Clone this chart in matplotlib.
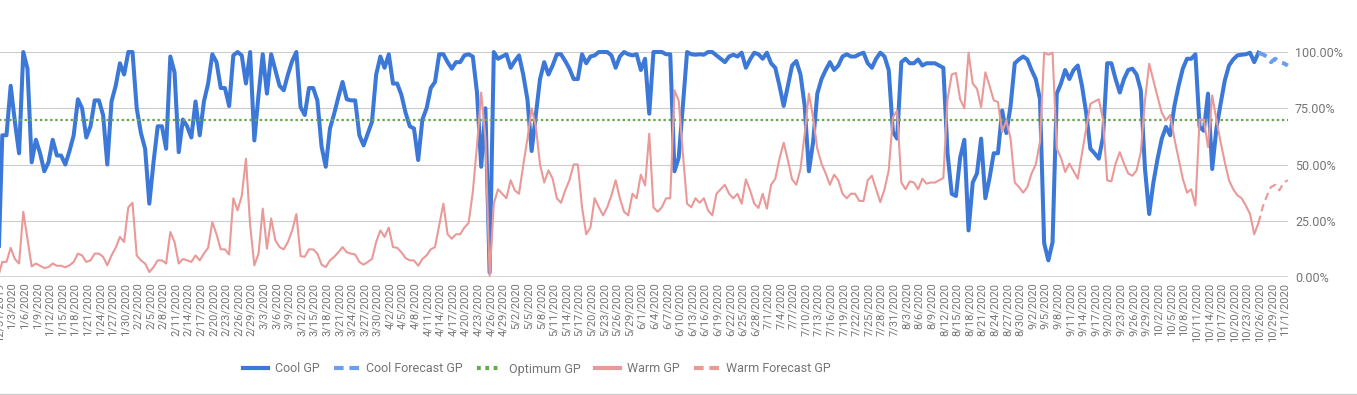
import pandas as pd
import matplotlib
matplotlib.use("Agg")
import matplotlib.pyplot as plt
import matplotlib.transforms as mtransforms
from matplotlib.lines import Line2D

plt.rcParams['font.family'] = ['Roboto', 'DejaVu Sans']

# daily values, first entry is 12/30/2019
cool_gp = [0,
    63, 63, 85, 69, 55, 100, 92.6, 51, 61, 55,
    47, 51, 61, 54, 54, 50, 56, 63, 79, 75,
    62, 67, 78.5, 78.5, 72, 50, 78, 85, 95, 90,
    100, 100, 75, 64, 57, 32.6, 51, 67, 67, 57,
    98, 91, 55.5, 70, 67, 62, 78, 63, 78, 86,
    99, 95.5, 84, 84, 76, 98.5, 100, 98.5, 86, 100,
    60.7, 81, 99, 81.5, 99, 92, 85, 83, 90, 96,
    100, 75.5, 72, 84, 84, 78.5, 58, 49, 66, 72.6,
    80, 86.7, 79, 78.5, 78.5, 63, 58.5, 63.7, 69, 90,
    98, 93, 99, 86, 86, 81, 73, 67, 66, 52,
    70, 75, 84, 86.7, 99, 99, 95.5, 92.6, 95.5, 95.5,
    98.5, 99, 98, 82, 49, 75, 2, 100, 97, 98,
    99, 93, 96, 98.5, 90, 79, 56, 72, 88, 95.5,
    90, 94, 99, 99, 96, 92.6, 88, 88, 99, 95,
    98, 98.5, 100, 100, 100, 98.5, 93, 98, 100, 99,
    98.5, 99, 92, 97, 72.6, 100, 100, 100, 99, 99,
    47, 53, 76, 100, 99, 98.8, 99, 98.8, 100, 100,
    98.5, 97, 95.5, 98, 98.8, 98, 99.7, 93, 96.7, 99.7,
    99, 97, 99.7, 95, 93, 85, 76, 85, 94, 96,
    90, 76, 47, 60, 81.5, 88, 92, 95.5, 92, 94,
    98, 99, 98, 98, 99, 99.7, 95, 93, 97, 99.7,
    98, 92, 64.5, 61.5, 95.5, 97, 95, 95, 96.7, 94,
    95, 95, 95, 94, 93, 55, 37, 36, 53, 61,
    20.7, 42, 46, 61.5, 35, 44, 55, 55, 74, 64,
    76, 95, 96.7, 98, 96.7, 92, 88, 79, 15, 7.4,
    15.5, 81.5, 86, 92, 88, 92, 94, 85, 73, 57,
    55, 52.6, 62, 95, 95, 88, 82, 88, 92, 92.6,
    90, 83, 48, 28, 42, 52.6, 61.5, 66.7, 63, 76,
    85, 92.6, 97, 97, 99, 66.7, 65, 81.5, 48, 66,
    77, 87.4, 94, 96.7, 98.5, 98.8, 99, 99.7, 95.5, 99.7]

warm_gp = [0,
    6.7, 6.7, 13, 8, 6, 29, 17, 4.7, 6, 5,
    4, 4.4, 6, 5, 5, 4.3, 5.2, 6.7, 10.4, 9.6,
    6.7, 7.4, 10.4, 10.4, 9, 5.2, 9.6, 13, 17.8, 15.6,
    31, 33, 9.6, 7.4, 6, 2.2, 4.4, 7.4, 7.4, 6,
    20, 15.6, 6, 8, 7.4, 6.7, 9.6, 7.4, 10.4, 13,
    24.4, 19, 12.3, 12.3, 10, 35, 29.6, 36, 52.6, 23,
    5.2, 10.4, 30.4, 12.6, 26, 16.3, 13.3, 12.3, 15.6, 20.7,
    28, 9.3, 9, 12.3, 12.3, 10.4, 5.5, 4.4, 7.4, 9,
    11, 13.3, 11, 10.4, 10, 6.7, 5.5, 6.7, 8, 15.6,
    20.7, 17.8, 22, 13.3, 13, 11, 8.4, 7.4, 7.4, 5,
    8, 9.6, 12.3, 13.3, 23, 32.6, 19, 17, 19, 19,
    22, 24, 37.8, 58.5, 82, 61.5, 0.5, 32.6, 39, 37,
    35, 43, 38.5, 37, 49.6, 61.5, 75, 67, 50, 42,
    47.4, 43.7, 35, 33, 38.5, 43, 50, 50, 31, 19,
    22, 35, 31, 27.4, 31, 36.3, 43, 35, 29, 27.4,
    37, 35, 45.5, 40.7, 63.7, 31, 29, 31, 35, 35,
    83, 78.5, 55, 32.6, 31, 35, 33, 35, 29.6, 27.4,
    37, 39, 41, 37, 35, 37, 32.6, 43.4, 38.5, 32.6,
    30.7, 37, 30.4, 41, 43.7, 52.6, 59.7, 51.9, 43.4, 41,
    48, 63.7, 81.5, 71, 57, 50.4, 46, 41, 45.5, 43,
    37, 35, 37, 37, 33.8, 33.8, 43, 45, 39, 33.3,
    39, 47.4, 71, 74, 42, 39, 42.5, 42, 39, 43.7,
    41.5, 42, 42, 43, 44, 79, 90, 90.7, 79, 75,
    99.7, 86, 83.7, 75.5, 91, 85, 78.5, 77.8, 64.4, 69.6,
    61.5, 42, 40, 37.5, 40, 46, 50, 60, 99.7, 98.8,
    99.7, 57, 53, 46.7, 50.4, 47, 43.7, 55, 66, 77,
    78, 79, 70, 43, 42.5, 50.4, 55.5, 50.4, 46, 45,
    47.4, 55.5, 78.5, 94.8, 87.4, 80, 73, 69.6, 72, 61.5,
    52.6, 43.7, 37.5, 39, 31.8, 70, 70, 57.8, 80.7, 70,
    60, 51, 43, 39, 36.3, 35, 31.8, 28, 19, 24]

# forecasts start on the last actual day
cool_forecast_gp = [99.7, 99, 98, 95.5, 97, 95.5, 95, 94]
warm_forecast_gp = [24, 31, 36, 40, 41, 38.5, 42, 43]
optimum_gp = 70

dates = pd.date_range("2019-12-30", "2020-11-01", freq="D")
tick_dates = pd.date_range("2019-12-31", "2020-11-01", freq="3D")
tick_labels = [f"{d.month}/{d.day}/{d.year}" for d in tick_dates]

n = len(cool_gp)
actual_dates = dates[:n]
fc_dates = dates[n - 1:n - 1 + len(cool_forecast_gp)]

c_cool = "#3c78d8"
c_cool_fc = "#6d9eeb"
c_opt = "#6aa84f"
c_warm = "#ea9999"
txt = "#757575"

fig = plt.figure(figsize=(13.57, 3.95), dpi=100)
ax = fig.add_axes([0, 0.2987, 1288 / 1357, 0.5696])

ax.plot(actual_dates, cool_gp, color=c_cool, lw=2.9, solid_joinstyle="round",
        clip_on=False, zorder=3, label="Cool GP")
ax.plot(fc_dates, cool_forecast_gp, color=c_cool_fc, lw=2.9, linestyle=(0, (2.2, 1.5)),
        clip_on=False, zorder=3, label="Cool Forecast GP")
ax.plot(dates, [optimum_gp] * len(dates), color=c_opt, lw=1.6, linestyle=(0, (1.1, 1.2)),
        clip_on=False, zorder=4, label="Optimum GP")
ax.plot(actual_dates[:len(warm_gp)], warm_gp, color=c_warm, lw=1.5,
        clip_on=False, zorder=5, label="Warm GP")
ax.plot(fc_dates, warm_forecast_gp, color=c_warm, lw=1.5, linestyle=(0, (3.6, 2.2)),
        clip_on=False, zorder=5, label="Warm Forecast GP")

ax.set_xlim(pd.Timestamp("2019-12-31") - pd.Timedelta(hours=13),
            pd.Timestamp("2020-11-01") + pd.Timedelta(hours=1))
ax.set_ylim(0, 100)

for sp in ax.spines.values():
    sp.set_visible(False)
ax.set_yticks([0, 25, 50, 75, 100])
ax.set_yticklabels([f"{v:.2f}%" for v in [0, 25, 50, 75, 100]])
ax.yaxis.tick_right()
ax.tick_params(axis="y", length=0, pad=5, labelsize=9, labelcolor=txt)
ax.grid(axis="y", color="#cccccc", lw=0.8, zorder=0)
ax.axhline(0, color="#333333", lw=1.0, zorder=2)

ax.set_xticks(tick_dates)
ax.set_xticklabels(tick_labels, rotation=90)
ax.tick_params(axis="x", length=0, pad=4, labelsize=8, labelcolor=txt)
shift = mtransforms.ScaledTranslation(-3 / 100, 0, fig.dpi_scale_trans)
for lab in ax.get_xticklabels():
    lab.set_transform(lab.get_transform() + shift)

handles = [
    Line2D([], [], color=c_cool, lw=3),
    Line2D([], [], color=c_cool_fc, lw=3, linestyle=(0, (2.3, 1.4))),
    Line2D([], [], color=c_opt, lw=3, linestyle=(0, (0.9, 1.1))),
    Line2D([], [], color=c_warm, lw=3),
    Line2D([], [], color=c_warm, lw=3, linestyle=(0, (2.3, 1.4))),
]
labels = ["Cool GP", "Cool Forecast GP", "Optimum GP", "Warm GP", "Warm Forecast GP"]
leg = fig.legend(handles, labels, loc="center", bbox_to_anchor=(537 / 1357, 1 - 369 / 395),
                 ncol=5, frameon=False, fontsize=9, handlelength=2.0, handletextpad=0.6,
                 columnspacing=1.1, labelcolor=txt)

fig.add_artist(Line2D([0, 1], [1.5 / 395, 1.5 / 395], color="#cfcfcf", lw=1))

fig.savefig("out.png", dpi=100)
